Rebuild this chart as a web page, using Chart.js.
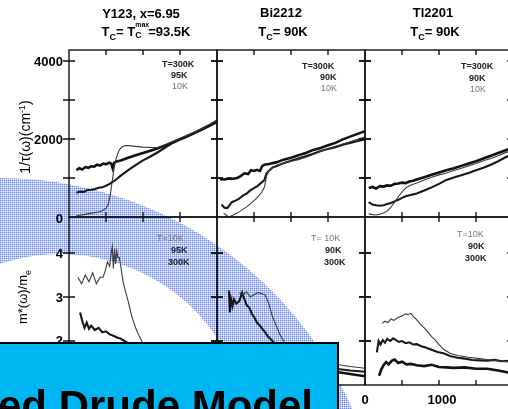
<!DOCTYPE html>
<html>
<head>
<meta charset="utf-8">
<script src="https://cdn.jsdelivr.net/npm/chart.js@4.4.0/dist/chart.umd.min.js"></script>
<style>
html,body{margin:0;padding:0;background:#fff}
#stage{position:relative;width:508px;height:409px;overflow:hidden;font-family:"Liberation Sans",Arial,sans-serif;color:#000}
#band{position:absolute;left:0;top:0;z-index:0}
.pane{position:absolute;z-index:1}
.lab{position:absolute;z-index:2;white-space:nowrap;line-height:1}
.c{transform:translate(-50%,-50%)}
.r{transform:translate(-100%,-50%)}
.v{transform:translate(-50%,-50%) rotate(-90deg)}
.tl{font-weight:bold;font-size:13px}
.tk{font-weight:bold;font-size:13px}
.ax{font-size:14px}
.lg{font-size:9px;transform:translateY(-50%)}
.lg.b{font-weight:bold;color:#222}
.lg.g{color:#777}
sub{font-size:9px;vertical-align:-4px;line-height:0}
.st{display:inline-block;position:relative;width:13px;height:10px}
.st .mx{position:absolute;left:0;top:-5px;font-size:7px}
.st .cc{position:absolute;left:0;top:5px;font-size:9px}
#box{position:absolute;z-index:3;left:-3px;top:342px;width:342px;height:80px;background:#00b6f2;border-top:2px solid #000;border-right:2px solid #000;box-sizing:border-box}
#boxText{position:absolute;z-index:4;left:-2px;top:385px;font-weight:bold;font-size:42px;line-height:1;white-space:nowrap}
</style>
</head>
<body>
<div id="stage">
<canvas id="band" width="508" height="409"></canvas>

<div class="lab tl c" style="left:141px;top:13px">Y123, x=6.95</div>
<div class="lab tl c" style="left:146px;top:31px">T<sub>C</sub>= T<span class="st"><span class="mx">max</span><span class="cc">C</span></span>=93.5K</div>
<div class="lab tl c" style="left:281px;top:12px">Bi2212</div>
<div class="lab tl c" style="left:283px;top:31px">T<sub>C</sub>= 90K</div>
<div class="lab tl c" style="left:433px;top:12px">Tl2201</div>
<div class="lab tl c" style="left:435px;top:31px">T<sub>C</sub>= 90K</div>

<div class="lab ax v" style="left:25px;top:137px">1/τ(ω)(cm<sup style="font-size:9px">-1</sup>)</div>
<div class="lab ax v" style="left:22px;top:297px;font-size:13px">m*(ω)/m<sub>e</sub></div>

<div class="lab tk r" style="left:63px;top:61px">4000</div>
<div class="lab tk r" style="left:63px;top:139px">2000</div>
<div class="lab tk r" style="left:63px;top:218px">0</div>
<div class="lab tk r" style="left:63px;top:253px">4</div>
<div class="lab tk r" style="left:63px;top:297px">3</div>
<div class="lab tk r" style="left:63px;top:340px">2</div>
<div class="lab tk c" style="left:365px;top:399px">0</div>
<div class="lab tk c" style="left:442px;top:399px">1000</div>

<div class="lab lg b" style="left:162px;top:64px">T=300K</div>
<div class="lab lg b" style="left:171px;top:75px">95K</div>
<div class="lab lg g" style="left:172px;top:86px">10K</div>
<div class="lab lg b" style="left:302px;top:66px">T=300K</div>
<div class="lab lg b" style="left:320px;top:77px">90K</div>
<div class="lab lg g" style="left:321px;top:88px">10K</div>
<div class="lab lg b" style="left:461px;top:66px">T=300K</div>
<div class="lab lg b" style="left:469px;top:78px">90K</div>
<div class="lab lg g" style="left:470px;top:89px">10K</div>
<div class="lab lg g" style="left:157px;top:238px">T=10K</div>
<div class="lab lg b" style="left:171px;top:250px">95K</div>
<div class="lab lg b" style="left:168px;top:262px">300K</div>
<div class="lab lg g" style="left:311px;top:238px">T= 10K</div>
<div class="lab lg b" style="left:325px;top:250px">90K</div>
<div class="lab lg b" style="left:324px;top:262px">300K</div>
<div class="lab lg g" style="left:457px;top:234px">T=10K</div>
<div class="lab lg b" style="left:468px;top:246px">90K</div>
<div class="lab lg b" style="left:465px;top:258px">300K</div>

<div id="box"></div>
<div id="boxText">ed Drude Model</div>
</div>

<script>
// wavenumber ticks (cm-1)
var xTicks = [500, 1000, 1500];
var rateTicks = [1000, 2000, 3000, 4000];
var massTicks = [2, 3, 4];

// Y123 scattering rate 1/tau (cm-1)
var y123Top300x = [100,140,180,220,260,300,340,380,420,460,500,540,570,590,610,640,700,800,900,1000,1100,1200,1300,1400,1500,1600,1700,1800,1900,2000];
var y123Top300y = [1200,1250,1220,1280,1260,1300,1290,1340,1320,1370,1350,1390,1370,1250,1390,1420,1450,1520,1580,1640,1700,1760,1830,1900,1990,2070,2160,2250,2340,2440];
var y123Top95x = [100,150,200,250,300,350,400,450,500,550,600,650,700,800,900,1000,1100,1200,1300,1400,1500,1600,1700,1800,1900,2000];
var y123Top95y = [620,650,640,690,700,720,750,760,800,850,910,980,1060,1200,1330,1450,1550,1660,1780,1900,1990,2070,2160,2250,2340,2430];
var y123Top10x = [100,200,300,400,450,500,530,560,590,610,630,650,680,720,760,800,900,1000,1100,1200,1300,1400,1500,1600,1700,1800,1900,2000];
var y123Top10y = [30,60,100,130,160,220,320,600,1000,1250,1450,1580,1720,1800,1830,1830,1810,1790,1780,1780,1860,1940,2020,2100,2180,2280,2380,2490];

// Y123 effective mass m*/me
var y123Bot10x = [120,170,220,270,320,370,420,460,490,520,550,570,585,600,615,630,645,660,680,700,730,760,800,850,900,950,1000,1200,1500,2000];
var y123Bot10y = [3.45,3.3,3.5,3.35,3.55,3.3,3.45,3.45,3.6,3.8,3.7,4.0,4.15,3.65,4.1,3.75,4.05,3.9,3.9,3.7,3.35,3.15,2.9,2.55,2.3,2.1,1.95,1.6,1.4,1.3];
var y123Bot95x = [150,180,210,240,270,300,350,400,450,500,550,600,650,700,800,1000,1500,2000];
var y123Bot95y = [2.65,2.45,2.3,2.42,2.28,2.35,2.25,2.3,2.2,2.22,2.15,2.12,2.08,2.05,1.95,1.8,1.6,1.5];
var y123Bot300x = [150,300,500,700,1000,1500,2000];
var y123Bot300y = [1.6,1.55,1.5,1.45,1.4,1.35,1.3];

// Bi2212
var biTop300x = [40,100,160,220,270,320,370,420,460,500,540,580,610,640,700,800,900,1000,1100,1200,1300,1400,1500,1600,1700,1800,1900,2000];
var biTop300y = [970,960,990,980,1000,1050,1120,1100,1200,1180,1210,1180,1300,1340,1360,1400,1470,1520,1580,1640,1720,1770,1840,1900,1990,2060,2130,2200];
var biTop90x = [60,100,140,200,250,300,350,400,450,500,550,600,640,670,700,750,800,900,1000,1100,1200,1300,1400,1500,1600,1700,1800,1900,2000];
var biTop90y = [320,240,230,380,420,470,550,600,680,740,800,880,950,1120,1180,1270,1300,1380,1440,1500,1560,1620,1690,1740,1790,1850,1900,1950,1990];
var biTop10x = [90,160,220,270,330,400,470,540,600,640,670,700,750,800,900,1000,1100,1200,1300,1400,1500,1600,1700,1800,1900,2000];
var biTop10y = [100,0,50,100,170,260,370,490,620,760,1050,1180,1260,1320,1380,1430,1470,1530,1600,1680,1750,1810,1870,1930,1990,2050];

var biBot10x = [300,350,400,450,500,550,600,650,700,750,800,850,900,1000,1200,1400,1600,1800,2000];
var biBot10y = [3.1,3.05,3.12,3.0,3.05,3.1,3.08,3.05,2.85,2.55,2.35,2.15,2.0,1.8,1.62,1.52,1.47,1.42,1.38];
var biBot90x = [160,175,190,210,230,260,300,340,370,400,440,470,500,540,580,610,650,680,720,750,800,900,1000,1200,1400,1600,1800,2000];
var biBot90y = [3.15,2.65,2.95,2.8,2.95,2.85,2.9,3.1,2.95,2.82,2.75,2.62,2.55,2.42,2.35,2.28,2.2,2.12,2.05,2.0,1.9,1.75,1.62,1.5,1.42,1.37,1.33,1.3];
var biBot300x = [200,400,600,800,1000,1200,1400,1600,1800,2000];
var biBot300y = [1.9,1.8,1.7,1.6,1.5,1.42,1.35,1.3,1.25,1.2];

// Tl2201
var tlTop300x = [50,100,150,200,250,300,350,400,450,500,550,600,650,700,800,900,1000,1100,1200,1300,1400,1500,1600,1700,1800,1900,2000];
var tlTop300y = [740,770,730,790,780,810,800,850,860,880,870,910,930,960,1020,1080,1140,1200,1250,1310,1370,1430,1500,1570,1640,1710,1780];
var tlTop90x = [50,100,150,200,250,300,350,400,450,500,550,600,650,700,800,900,1000,1100,1200,1300,1400,1500,1600,1700,1800,1900,2000];
var tlTop90y = [380,320,300,290,300,330,360,400,440,490,530,560,580,600,680,760,850,950,1010,1070,1130,1200,1260,1340,1430,1530,1620];
var tlTop10x = [50,100,150,200,250,300,350,400,450,500,550,600,650,700,800,900,1000,1100,1200,1300,1400,1500,1600,1700,1800,1900,2000];
var tlTop10y = [80,60,50,70,100,150,250,380,520,640,740,800,840,870,950,1020,1080,1130,1190,1250,1310,1370,1440,1500,1570,1650,1720];

var tlBot10x = [230,270,310,350,390,430,470,510,550,580,620,660,700,750,800,850,900,950,1000,1070,1150,1250,1400,1550,1700,1850,1950];
var tlBot10y = [2.40,2.45,2.42,2.5,2.47,2.52,2.55,2.58,2.62,2.6,2.63,2.55,2.48,2.38,2.3,2.2,2.1,2.02,1.92,1.8,1.72,1.67,1.63,1.6,1.57,1.54,1.52];
var tlBot90x = [160,185,210,240,270,300,340,380,420,460,500,550,600,650,700,760,820,900,980,1060,1150,1250,1350,1450,1550,1650,1750,1850,1950];
var tlBot90y = [1.74,2.0,1.92,2.02,1.96,2.05,2.0,2.06,2.02,1.98,2.0,1.95,1.97,1.92,1.93,1.88,1.85,1.8,1.75,1.72,1.66,1.62,1.6,1.57,1.56,1.55,1.57,1.54,1.55];
var tlBot300x = [190,220,250,285,320,360,400,450,500,560,620,700,800,900,1000,1100,1200,1350,1500,1650,1800,1950];
var tlBot300y = [1.21,1.35,1.45,1.52,1.47,1.55,1.58,1.5,1.53,1.47,1.48,1.45,1.43,1.46,1.41,1.4,1.39,1.4,1.37,1.37,1.33,1.28];

var thick = {w: 2.6, c: '#111'};
var mid = {w: 2.1, c: '#181818'};
var thin = {w: 1.1, c: '#3a3a3a'};

// shaded arc behind the panels
var band = document.getElementById('band').getContext('2d');
var tile = document.createElement('canvas');
tile.width = 2; tile.height = 2;
var tc = tile.getContext('2d');
tc.fillStyle = '#b6c5f8'; tc.fillRect(0, 0, 2, 2);
tc.fillStyle = '#6f8ef0'; tc.fillRect(0, 0, 1, 1);
tc.fillStyle = '#f2f5ff'; tc.fillRect(1, 1, 1, 1);
band.fillStyle = band.createPattern(tile, 'repeat');
band.beginPath();
band.arc(0, 562, 384, 0, Math.PI * 2);
band.arc(60, 443, 189, 0, Math.PI * 2);
band.fill('evenodd');

var frame = {
	id: 'frame',
	afterDatasetsDraw: function (chart, args, opts) {
		var ctx = chart.ctx, a = chart.chartArea;
		var x = chart.scales.x, y = chart.scales.y;
		ctx.save();
		ctx.strokeStyle = '#111';
		ctx.lineWidth = 1.4;
		ctx.strokeRect(a.left, a.top, a.width, a.height);
		ctx.beginPath();
		xTicks.forEach(function (v) {
			var px = x.getPixelForValue(v);
			ctx.moveTo(px, a.top); ctx.lineTo(px, a.top + 5);
			ctx.moveTo(px, a.bottom); ctx.lineTo(px, a.bottom - 5);
		});
		opts.yTicks.forEach(function (v) {
			var py = y.getPixelForValue(v);
			ctx.moveTo(a.left - 6, py); ctx.lineTo(a.left + 6, py);
			ctx.moveTo(a.right - 6, py); ctx.lineTo(a.right + 6, py);
		});
		ctx.stroke();
		ctx.restore();
	}
};

function panel(left, top, h, yMin, yMax, yTicks, sets) {
	var cv = document.createElement('canvas');
	cv.width = 168; cv.height = h + 20;
	cv.className = 'pane';
	cv.style.left = (left - 10) + 'px';
	cv.style.top = (top - 10) + 'px';
	document.getElementById('stage').insertBefore(cv, document.getElementById('box'));
	new Chart(cv, {
		type: 'line',
		data: {
			datasets: sets.map(function (s) {
				return {
					data: s[0].map(function (v, i) { return {x: v, y: s[1][i]}; }),
					borderColor: s[2].c,
					borderWidth: s[2].w,
					pointRadius: 0,
					tension: 0
				};
			})
		},
		options: {
			responsive: false,
			animation: false,
			devicePixelRatio: 1,
			layout: {padding: 10},
			scales: {
				x: {type: 'linear', display: false, min: 0, max: 2000},
				y: {display: false, min: yMin, max: yMax}
			},
			plugins: {legend: {display: false}, tooltip: {enabled: false}, frame: {yTicks: yTicks}}
		},
		plugins: [frame]
	});
}

panel(69, 50, 167, 0, 4280, rateTicks, [[y123Top10x, y123Top10y, thin], [y123Top95x, y123Top95y, mid], [y123Top300x, y123Top300y, thick]]);
panel(217, 50, 167, 0, 4280, rateTicks, [[biTop10x, biTop10y, thin], [biTop90x, biTop90y, mid], [biTop300x, biTop300y, thick]]);
panel(365, 50, 167, 0, 4280, rateTicks, [[tlTop10x, tlTop10y, thin], [tlTop90x, tlTop90y, mid], [tlTop300x, tlTop300y, thick]]);
panel(69, 217, 168, 1, 4.82, massTicks, [[y123Bot10x, y123Bot10y, thin], [y123Bot95x, y123Bot95y, mid], [y123Bot300x, y123Bot300y, thick]]);
panel(217, 217, 168, 1, 4.82, massTicks, [[biBot10x, biBot10y, thin], [biBot90x, biBot90y, mid], [biBot300x, biBot300y, thick]]);
panel(365, 217, 168, 1, 4.82, massTicks, [[tlBot10x, tlBot10y, thin], [tlBot90x, tlBot90y, mid], [tlBot300x, tlBot300y, thick]]);
</script>
</body>
</html>
